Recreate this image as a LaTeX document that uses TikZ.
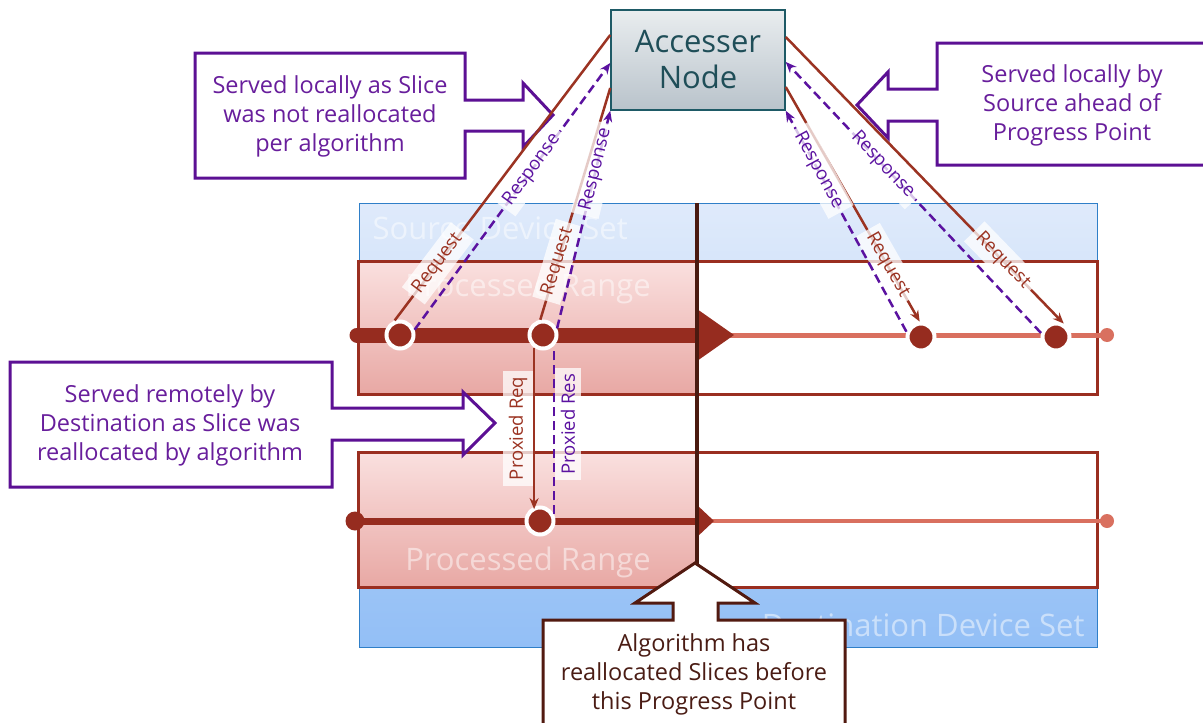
\documentclass[tikz,border=0pt]{standalone}
\usepackage{fontspec}
\setmainfont{Open Sans}
\usetikzlibrary{arrows.meta}

\definecolor{tlred}{RGB}{150,44,31}
\definecolor{tlsalmon}{RGB}{217,112,95}
\definecolor{reqred}{RGB}{155,51,34}
\definecolor{respurple}{RGB}{91,18,160}
\definecolor{bandred}{RGB}{154,46,32}
\definecolor{progbrown}{RGB}{74,26,16}
\definecolor{callpurple}{RGB}{92,16,148}
\definecolor{calltxt}{RGB}{104,30,156}
\definecolor{callbrown}{RGB}{82,26,16}
\definecolor{callbrowntxt}{RGB}{74,28,20}
\definecolor{srctop}{RGB}{223,234,251}
\definecolor{srcbot}{RGB}{197,220,247}
\definecolor{dsttop}{RGB}{171,205,246}
\definecolor{dstbot}{RGB}{147,191,246}
\definecolor{blueedge}{RGB}{47,127,200}
\definecolor{pinktop}{RGB}{250,224,223}
\definecolor{pinkbot}{RGB}{232,168,164}
\definecolor{acctop}{RGB}{233,237,239}
\definecolor{accbot}{RGB}{185,195,203}
\definecolor{accedge}{RGB}{30,90,102}
\definecolor{acctxt}{RGB}{31,78,88}

\begin{document}
\begin{tikzpicture}[x=1pt,y=-1pt,
		point/.style={circle,fill=tlred,draw=white,line width=4pt,minimum size=27pt,inner sep=0pt},
		request/.style={reqred,line width=2.5pt},
		response/.style={respurple,line width=2.5pt,dash pattern=on 9pt off 5pt},
		tip/.style={-{Stealth[length=11pt,width=9pt]}},
		lbl/.style={fill=white,fill opacity=0.75,text opacity=1,inner sep=5.5pt,font=\fontsize{18.5}{18.5}\selectfont},
		callout/.style={fill=white,line width=3pt,line join=miter},
		calltext/.style={align=center,font=\fontsize{23.5}{29}\selectfont},
		bigtext/.style={text=white,text opacity=0.5,font=\fontsize{31}{31}\selectfont}]
	\useasboundingbox (0,0) rectangle (1203,723);
	\fill[white] (0,0) rectangle (1203,723);

	\shade[top color=srctop,bottom color=srcbot,draw=blueedge,line width=1pt] (359,203) rectangle (1097,395);
	\shade[top color=dsttop,bottom color=dstbot,draw=blueedge,line width=1pt] (359,452) rectangle (1097,647);
	\node[bigtext,anchor=west] (srcset) at (369,228) {Source Device Set};
	\node[bigtext,anchor=east] (dstset) at (1088,625) {Destination Device Set};

	\shade[top color=pinktop,bottom color=pinkbot] (358,261) rectangle (697,394);
	\fill[white] (697,261) rectangle (1097,394);
	\draw[bandred,line width=3pt] (358,261) rectangle (1097,394);
	\shade[top color=pinktop,bottom color=pinkbot] (358,452) rectangle (697,587);
	\fill[white] (697,452) rectangle (1097,587);
	\draw[bandred,line width=3pt] (358,452) rectangle (1097,587);
	\node[bigtext] (rangeA) at (528,288) {Processed Range};
	\node[bigtext] (rangeB) at (528,562) {Processed Range};

	\draw[tlsalmon,line width=5pt] (730,335) -- (1107,335);
	\fill[tlsalmon] (1107,335) circle (7);
	\draw[tlred,line width=15pt,line cap=round] (357,335) -- (700,335);
	\fill[tlred] (697,309) -- (734,335) -- (697,361) -- cycle;
	\draw[tlsalmon,line width=4.5pt] (710,521) -- (1107,521);
	\fill[tlsalmon] (1107,521) circle (7);
	\draw[tlred,line width=7pt] (355,521) -- (700,521);
	\fill[tlred] (355,521) circle (9.5);
	\fill[tlred] (697,505) -- (714,521) -- (697,537) -- cycle;
	\draw[progbrown,line width=3.5pt] (697,203) -- (697,566);

	\draw[callout,draw=callpurple] (195,53) -- (465,53) -- (465,100) -- (523,100) -- (523,83) -- (553,115) -- (523,147) -- (523,131) -- (465,131) -- (465,178) -- (195,178) -- cycle;
	\node[calltext,text=calltxt] (noteA) at (330,116) {Served locally as Slice\\was not reallocated\\per algorithm};
	\draw[callout,draw=callpurple] (1212,43) -- (937,43) -- (937,89) -- (888,89) -- (888,72) -- (857,105) -- (888,138) -- (888,121) -- (937,121) -- (937,165) -- (1212,165) -- cycle;
	\node[calltext,text=calltxt] (noteB) at (1072,105) {Served locally by\\Source ahead of\\Progress Point};
	\draw[callout,draw=callpurple] (10,362) -- (332,362) -- (332,408) -- (463,408) -- (463,392) -- (495,423) -- (463,455) -- (463,440) -- (332,440) -- (332,487) -- (10,487) -- cycle;
	\node[calltext,text=calltxt] (noteC) at (170,425) {Served remotely by\\Destination as Slice was\\reallocated by algorithm};
	\draw[callout,draw=callbrown] (543,728) -- (543,620) -- (673,620) -- (673,603) -- (635,603) -- (695,563) -- (755,603) -- (718,603) -- (718,620) -- (845,620) -- (845,728) -- cycle;
	\node[calltext,text=callbrowntxt] (noteD) at (694,674) {Algorithm has\\reallocated Slices before\\this Progress Point};

	\node[draw=accedge,line width=1.5pt,top color=acctop,bottom color=accbot,text=acctxt,minimum width=174pt,minimum height=100pt,align=center,font=\fontsize{31}{36}\selectfont] (acc) at (698,60) {Accesser\\Node};

	\node[point] (pA) at (400,335) {};
	\node[point] (pB) at (543,335) {};
	\node[point] (pC) at (921,337) {};
	\node[point] (pD) at (1056,337) {};
	\node[point] (pE) at (540,521) {};

	\draw[request] (pA.110) -- ([yshift=25pt]acc.west) node[lbl,sloped,pos=0.2,text=reqred] {Request};
	\draw[response,tip] (pA.20) -- ([yshift=-3pt]acc.west) node[lbl,sloped,pos=0.6,text=respurple] {Response};
	\draw[request] (pB.100) -- ([yshift=-28pt]acc.west) node[lbl,sloped,pos=0.25,text=reqred] {Request};
	\draw[response,tip] (pB.25) -- (acc.south west) node[lbl,sloped,pos=0.73,text=respurple] {Response};
	\draw[request,tip] ([yshift=-27pt]acc.east) -- (pC.95) node[lbl,sloped,pos=0.76,text=reqred] {Request};
	\draw[response,tip] (pC.160) -- (acc.south east) node[lbl,sloped,pos=0.73,text=respurple] {Response};
	\draw[request,tip] ([yshift=23pt]acc.east) -- (pD.60) node[lbl,sloped,pos=0.78,text=reqred] {Request};
	\draw[response,tip] (pD.165) -- ([yshift=-2pt]acc.east) node[lbl,sloped,pos=0.62,text=respurple] {Response};
	\draw[request,tip] (pB.235) -- (pB.235 |- pE.130) node[lbl,rotate=90,anchor=south,pos=0.5,text=reqred] {Proxied Req};
	\draw[response] (pE.25) -- (pE.25 |- pB.south) node[lbl,rotate=90,anchor=north,pos=0.55,text=respurple] {Proxied Res};
\end{tikzpicture}
\end{document}
